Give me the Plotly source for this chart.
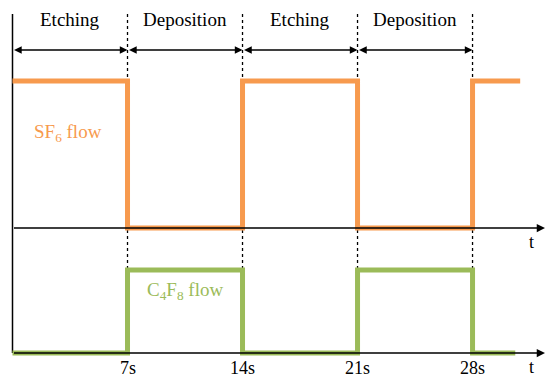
import plotly.graph_objects as go

# ---- data ----
switch_times = [0, 7, 14, 21, 28]
sf6_end = 30.9
c4f8_end = 30.6
sf6_levels = [1, 0, 1, 0, 1]
c4f8_levels = [0, 1, 0, 1, 0]
tick_labels = ["7s", "14s", "21s", "28s"]
phase_labels = ["Etching", "Deposition", "Etching", "Deposition"]

ORANGE = "#F79A4E"
GREEN = "#9BBB59"
FONT = "Liberation Serif"

# pixel geometry helpers (layout only)
W, H = 550, 381
px0, pxs = 12.5, 16.43          # t=0 pixel, pixels per second
xr = [(0 - px0) / pxs, (W - px0) / pxs]
# SF6 axis: 0 at 228px, 1 at 81px
y1r = [-(H - 228) / 147, 1 + 81 / 147]
# C4F8 axis: 0 at 353px, 1 at 270px
y2r = [-(H - 353) / 83, 1 + 270 / 83]

def t_of(px):
    return (px - px0) / pxs

def y1_of(py):
    return (228 - py) / 147

def y2_of(py):
    return (353 - py) / 83

fig = go.Figure()

sx = switch_times + [sf6_end]
sy = sf6_levels + [sf6_levels[-1]]
cx = switch_times + [c4f8_end]
cy = c4f8_levels + [c4f8_levels[-1]]

shapes = []
# dotted dividers
for t in switch_times[1:]:
    shapes.append(dict(type="line", xref="x", yref="y", x0=t, x1=t,
                       y0=y1_of(14), y1=y1_of(353),
                       line=dict(color="black", width=1.3, dash="dot"), layer="below"))
# left vertical axis
shapes.append(dict(type="line", xref="x", yref="y", x0=0, x1=0,
                   y0=y1_of(14), y1=y1_of(353),
                   line=dict(color="black", width=1.5), layer="below"))

fig.add_trace(go.Scatter(x=sx, y=sy, mode="lines", line=dict(color=ORANGE, width=5, shape="hv"),
                         yaxis="y", hoverinfo="skip", showlegend=False))
fig.add_trace(go.Scatter(x=cx, y=cy, mode="lines", line=dict(color=GREEN, width=5, shape="hv"),
                         yaxis="y2", hoverinfo="skip", showlegend=False))

annotations = []
# time axes with arrows
for yref, yv in (("y", 0), ("y2", 0)):
    annotations.append(dict(x=t_of(545), y=yv, xref="x", yref=yref, ax=0, ay=yv,
                            axref="x", ayref=yref, text="", showarrow=True,
                            arrowhead=2, arrowsize=1.1, arrowwidth=1.5, arrowcolor="black",
                            standoff=0, startstandoff=0))
# double headed phase arrows
for i in range(4):
    a, b = switch_times[i], switch_times[i + 1]
    annotations.append(dict(x=b, y=y1_of(50), xref="x", yref="y", ax=a, ay=y1_of(50),
                            axref="x", ayref="y", text="", showarrow=True,
                            arrowhead=2, startarrowhead=2, arrowside="end+start",
                            arrowsize=1.1, startarrowsize=1.1, arrowwidth=1.4, arrowcolor="black",
                            standoff=0, startstandoff=0))
    annotations.append(dict(x=(a + b) / 2, y=y1_of(19), xref="x", yref="y",
                            text=phase_labels[i], showarrow=False,
                            font=dict(family=FONT, size=19, color="black")))
# tick labels
for t, lab in zip(switch_times[1:], tick_labels):
    annotations.append(dict(x=t, y=y2_of(368), xref="x", yref="y2", text=lab, showarrow=False,
                            font=dict(family=FONT, size=18, color="black")))
# t labels
annotations.append(dict(x=t_of(531), y=y1_of(242), xref="x", yref="y", text="t", showarrow=False,
                        font=dict(family=FONT, size=18, color="black")))
annotations.append(dict(x=t_of(531), y=y2_of(367), xref="x", yref="y2", text="t", showarrow=False,
                        font=dict(family=FONT, size=18, color="black")))
# series labels
annotations.append(dict(x=t_of(68), y=y1_of(133), xref="x", yref="y",
                        text="SF<sub>6</sub> flow", showarrow=False,
                        font=dict(family=FONT, size=19, color=ORANGE)))
annotations.append(dict(x=t_of(185), y=y2_of(291), xref="x", yref="y2",
                        text="C<sub>4</sub>F<sub>8</sub> flow", showarrow=False,
                        font=dict(family=FONT, size=19, color=GREEN)))

fig.update_layout(
    width=W, height=H, margin=dict(l=0, r=0, t=0, b=0),
    paper_bgcolor="white", plot_bgcolor="white",
    xaxis=dict(range=xr, visible=False, fixedrange=True),
    yaxis=dict(range=y1r, visible=False, fixedrange=True),
    yaxis2=dict(range=y2r, visible=False, overlaying="y", fixedrange=True),
    shapes=shapes, annotations=annotations, showlegend=False,
)

fig.write_html("out.html", config={"displayModeBar": False},
               post_script="document.body.style.margin='0';document.body.style.overflow='hidden';")
